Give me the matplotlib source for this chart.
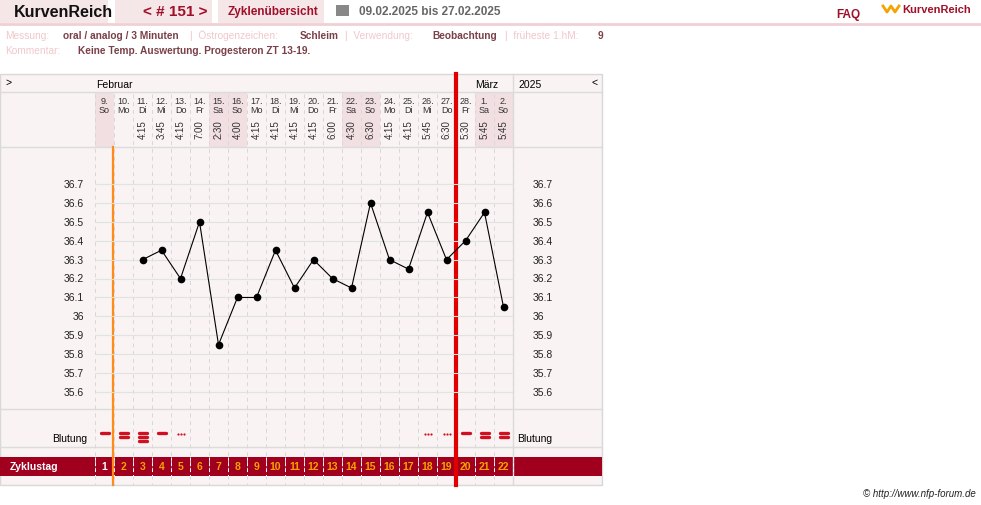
import matplotlib
matplotlib.use("Agg")
import matplotlib.pyplot as plt
from matplotlib.patches import Rectangle
import numpy as np

plt.rcParams['font.family'] = ['Liberation Sans', 'DejaVu Sans']

day_nums = ["9.","10.","11.","12.","13.","14.","15.","16.","17.","18.","19.","20.","21.","22.","23.","24.","25.","26.","27.","28.","1.","2."]
weekdays = ["So","Mo","Di","Mi","Do","Fr","Sa","So","Mo","Di","Mi","Do","Fr","Sa","So","Mo","Di","Mi","Do","Fr","Sa","So"]
times = ["","","4:15","3:45","4:15","7:00","2:30","4:00","4:15","4:15","4:15","4:15","6:00","4:30","6:30","4:15","4:15","5:45","6:30","5:30","5:45","5:45"]
temps = [np.nan,np.nan,36.3,36.35,36.2,36.5,35.85,36.1,36.1,36.35,36.15,36.3,36.2,36.15,36.6,36.3,36.25,36.55,36.3,36.4,36.55,36.05]
bleeding = ["1","2","3","1","d","","","","","","","","","","","","","d","d","1","2","2"]
cycle_days = list(range(1, 23))
shaded = [0, 6, 7, 13, 14, 20, 21]
ytick_vals = [35.6,35.7,35.8,35.9,36.0,36.1,36.2,36.3,36.4,36.5,36.6,36.7]
ytick_labels = ["35.6","35.7","35.8","35.9","36","36.1","36.2","36.3","36.4","36.5","36.6","36.7"]

W, H = 981, 506
fig = plt.figure(figsize=(W/100, H/100), dpi=100)
bg = fig.add_axes([0, 0, 1, 1])
bg.set_xlim(0, W); bg.set_ylim(H, 0); bg.axis('off')

PINK = '#f5e6e8'; PANEL = '#f9f3f3'; DARK = '#a0001e'; ORANGE = '#f5a300'
GRIDC = '#dddddd'
X0, CW = 95, 19.0
def cx(i): return X0 + CW * i + CW / 2

# header
for (x0, x1) in [(0, 108), (115, 212), (218, 324)]:
    bg.add_patch(Rectangle((x0, 0), x1 - x0, 24, color=PINK, lw=0))
bg.plot([0, 981], [24.5, 24.5], color='#f0d0d5', lw=2)
bg.text(14, 12, "KurvenReich", fontsize=11.5, fontweight='bold', va='center', color='#111')
bg.text(143, 12, "< # 151 >", fontsize=11, fontweight='bold', va='center', color='#a0102a')
bg.text(228, 12, "Zyklenübersicht", fontsize=8.5, fontweight='bold', va='center', color='#a0102a')
bg.add_patch(Rectangle((336, 6), 13, 11, color='#888', lw=0))
bg.text(359, 12, "09.02.2025 bis 27.02.2025", fontsize=8.5, fontweight='bold', va='center', color='#666')
bg.text(836, 15, "FAQ", fontsize=8.5, fontweight='bold', va='center', color='#a0102a')
bg.text(902, 10, "KurvenReich", fontsize=8, fontweight='bold', va='center', color='#a0102a')
bg.plot([883, 887, 891, 895, 899], [7, 13, 7, 13, 7], color='#f5a300', lw=2)

# info lines
LP = '#f0c8cc'; LD = '#7a4048'
segs = [(5, "Messung:", LP), (63, "oral / analog / 3 Minuten", LD), (190, "|  Östrogenzeichen:", LP),
        (300, "Schleim", LD), (345, "|  Verwendung:", LP), (432, "Beobachtung", LD),
        (505, "|  früheste 1.hM:", LP), (598, "9", LD)]
for x, t, c in segs:
    bg.text(x, 36, t, fontsize=7.3, va='center', color=c, fontweight='bold' if c == LD else 'normal')
bg.text(5, 51, "Kommentar:", fontsize=7.3, va='center', color=LP)
bg.text(78, 51, "Keine Temp. Auswertung. Progesteron ZT 13-19.", fontsize=7.3, va='center', color=LD, fontweight='bold')

# panel
bg.add_patch(Rectangle((0, 75), 602, 411, facecolor=PANEL, edgecolor='#d8d8d8', lw=1))
for i in shaded:
    bg.add_patch(Rectangle((X0 + CW * i, 93), CW, 55, color='#f1dfe2', lw=0))
for y in [93, 148, 410, 448]:
    bg.plot([0, 602], [y, y], color='#dcdcdc', lw=1)
bg.plot([513, 513], [75, 486], color='#dcdcdc', lw=1)
bg.text(5, 83, ">", fontsize=7.5, va='center')
bg.text(96, 85, "Februar", fontsize=7.5, va='center')
bg.text(475, 85, "März", fontsize=7.5, va='center')
bg.text(518, 85, "2025", fontsize=7.5, va='center')
bg.text(592, 83, "<", fontsize=7.5, va='center')
for i in range(22):
    bg.text(cx(i), 101, day_nums[i], fontsize=6.5, ha='center', va='center', color='#333')
    bg.text(cx(i), 110, weekdays[i], fontsize=6.5, ha='center', va='center', color='#333')
    if times[i]:
        bg.text(cx(i), 130, times[i], fontsize=7, ha='center', va='center', rotation=90, color='#333')
for i in range(23):
    x = X0 + CW * i
    bg.plot([x, x], [95, 486], color='#d8d8d8', lw=0.7, ls=(0, (4, 4)))

# bleeding
for i, b in enumerate(bleeding):
    x = cx(i)
    if b == 'd':
        bg.scatter([x - 3, x, x + 3], [435, 435, 435], s=2.5, color='#d01020', lw=0)
    elif b:
        n = int(b)
        ys = {1: [434], 2: [434, 438], 3: [434, 438, 442]}[n]
        for y in ys:
            bg.plot([x - 4, x + 4], [y, y], color='#d01020', lw=2.4, solid_capstyle='round')
bg.text(87, 439, "Blutung", fontsize=7.5, ha='right', va='center')
bg.text(517, 439, "Blutung", fontsize=7.5, ha='left', va='center')

# cycle day row
bg.add_patch(Rectangle((0, 458), 602, 19, color=DARK, lw=0))
bg.text(10, 467.5, "Zyklustag", fontsize=7.5, fontweight='bold', color='white', va='center')
for i, d in enumerate(cycle_days):
    bg.text(cx(i), 467.5, str(d), fontsize=7.5, fontweight='bold', ha='center', va='center',
            color='white' if d == 1 else ORANGE)
for i in range(23):
    x = X0 + CW * i
    bg.plot([x, x], [458, 477], color='white', lw=0.7, ls=(0, (3, 3)))

bg.plot([113, 113], [148, 486], color='#ff8c1a', lw=1.6)
bg.plot([455.5, 455.5], [75, 486], color='#e00000', lw=3)
bg.text(976, 494, "© http://www.nfp-forum.de", fontsize=7, ha='right', va='center', style='italic', color='#222')

# data axes
def fy(p): return 1 - p / H
ax = fig.add_axes([X0 / W, fy(410), 22 * CW / W, (410 - 148) / H])
ax.patch.set_alpha(0)
ax.set_xlim(-0.5, 21.5)
ax.set_ylim(35.510, 36.896)
for v in ytick_vals:
    ax.axhline(v, color='#e2e2e2', lw=0.8, zorder=0)
xs = np.arange(22)
t = np.array(temps)
m = ~np.isnan(t)
ax.plot(xs[m], t[m], color='black', lw=0.8, marker='o', ms=4.5)
ax.axis('off')
for v, l in zip(ytick_vals, ytick_labels):
    bg.text(84, 185 + (36.7 - v) * 189, l, fontsize=7.5, ha='right', va='center', color='#222')
    bg.text(533, 185 + (36.7 - v) * 189, l, fontsize=7.5, ha='left', va='center', color='#222')

fig.savefig("out.png", dpi=100)
